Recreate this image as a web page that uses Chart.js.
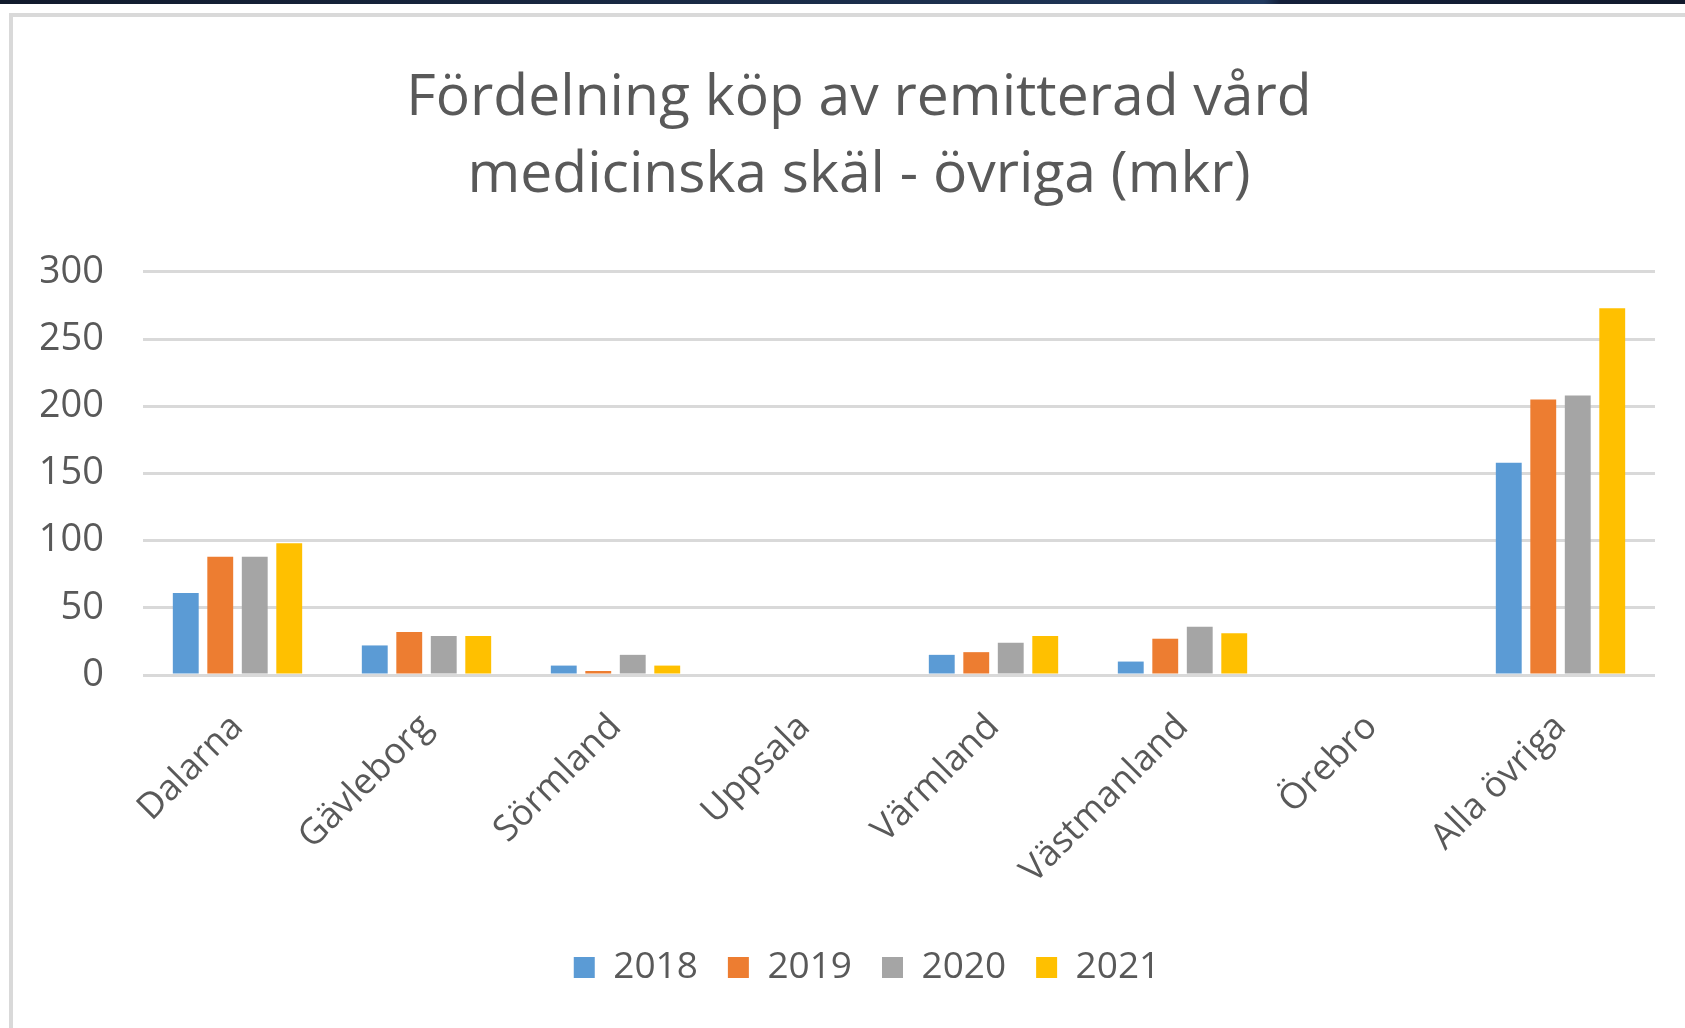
<!DOCTYPE html>
<html>
<head>
<meta charset="utf-8">
<script src="https://cdn.jsdelivr.net/npm/chart.js@4.4.1/dist/chart.umd.min.js"></script>
<style>
  html, body { margin: 0; padding: 0; background: #fff; overflow: hidden; }
  .topbar {
    position: absolute; left: 0; top: 0; width: 1685px; height: 4px;
    background: linear-gradient(to right, #111a2c 0%, #1d3150 60%, #213a60 75%, #14203a 76%, #111a2c 100%);
  }
  .frame {
    position: absolute; left: 9px; top: 13px; width: 1676px; height: 1015px;
    border-top: 4px solid #d9d9d9; border-left: 4px solid #d9d9d9;
  }
  .wrap { position: absolute; left: 13px; top: 17px; width: 1672px; height: 1011px; }
</style>
</head>
<body>
<div class="topbar"></div>
<div class="frame"></div>
<div class="wrap"><canvas id="regionChart"></canvas></div>
<script>
const regions = ['Dalarna', 'Gävleborg', 'Sörmland', 'Uppsala', 'Värmland', 'Västmanland', 'Örebro', 'Alla övriga'];
const years = ['2018', '2019', '2020', '2021'];
const values2018 = [61, 22, 7, 0, 15, 10, 0, 158];
const values2019 = [88, 32, 3, 0, 17, 27, 0, 205];
const values2020 = [88, 29, 15, 0, 24, 36, 0, 208];
const values2021 = [98, 29, 7, 0, 29, 31, 0, 273];
const colors = ['#5b9bd5', '#ed7d31', '#a5a5a5', '#ffc000'];

const textColor = '#595959';
const fontFamily = '"Open Sans", "Noto Sans", sans-serif';

// title and legend sit a little right of the canvas centre in the original
const nudgeBlocks = {
    id: 'nudgeBlocks',
    afterLayout(chart) {
        chart.titleBlock.left += 11;
        chart.titleBlock.right += 11;
        chart.legend.left += 19;
        chart.legend.right += 19;
    }
};

const ctx = document.getElementById('regionChart').getContext('2d');
const regionChart = new Chart(ctx, {
    type: 'bar',
    data: {
        labels: regions,
        datasets: [values2018, values2019, values2020, values2021].map((vals, i) => ({
            label: years[i],
            data: vals,
            backgroundColor: colors[i],
            categoryPercentage: 0.73,
            barPercentage: 0.75
        }))
    },
    options: {
        responsive: true,
        maintainAspectRatio: false,
        animation: false,
        layout: {
            padding: { left: 28, right: 30, top: 0, bottom: 32 }
        },
        scales: {
            y: {
                min: 0,
                max: 300,
                ticks: {
                    stepSize: 50,
                    padding: 39,
                    color: textColor,
                    font: { family: fontFamily, size: 38 }
                },
                grid: { color: '#d9d9d9', lineWidth: 3, drawTicks: false },
                border: { display: false },
                afterFit: (scale) => { scale.width = 102; }
            },
            x: {
                ticks: {
                    minRotation: 45,
                    maxRotation: 45,
                    padding: 23,
                    color: textColor,
                    font: { family: fontFamily, size: 36 }
                },
                grid: { display: false },
                border: { display: false },
                // fixed axis height, and no extra left room for the rotated first label
                afterFit: (scale) => {
                    scale.height = 244;
                    scale.paddingLeft = 0;
                }
            }
        },
        plugins: {
            title: {
                display: true,
                text: ['Fördelning köp av remitterad vård', 'medicinska skäl - övriga (mkr)'],
                color: textColor,
                font: { family: fontFamily, size: 57, weight: 'normal', lineHeight: 1.35 },
                padding: { top: 43, bottom: 58 }
            },
            legend: {
                display: true,
                position: 'bottom',
                labels: {
                    boxWidth: 21,
                    boxHeight: 21,
                    padding: 30,
                    color: textColor,
                    font: { family: fontFamily, size: 37 }
                }
            },
            tooltip: { enabled: false }
        }
    },
    plugins: [nudgeBlocks]
});
</script>
</body>
</html>
